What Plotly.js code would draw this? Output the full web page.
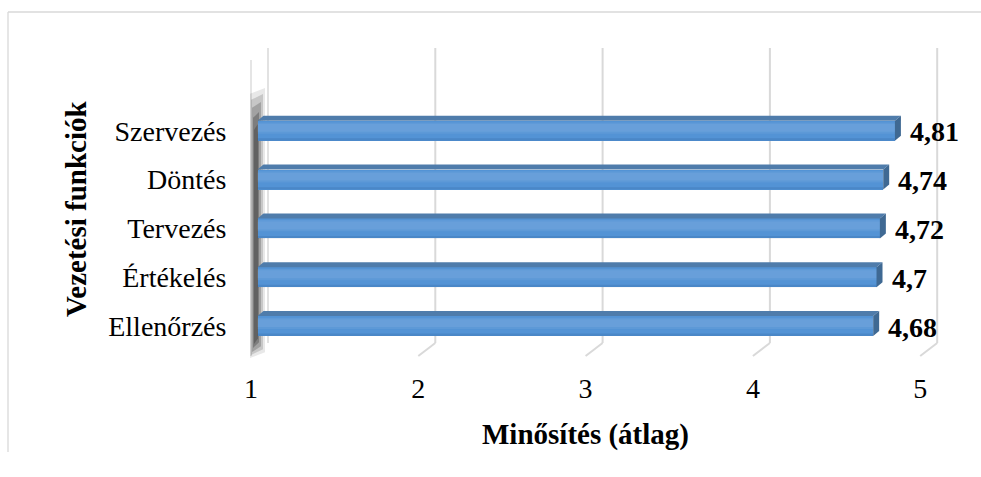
<!DOCTYPE html>
<html>
<head>
<meta charset="utf-8">
<script src="https://cdn.plot.ly/plotly-3.0.1.min.js"></script>
<style>html,body{margin:0;padding:0;background:#fff;}#chart{width:981px;height:477px;}</style>
</head>
<body>
<div id="chart"></div>
<script>
// ---- data (top to bottom as in the chart) ----
var categories = ["Szervezés", "Döntés", "Tervezés", "Értékelés", "Ellenőrzés"];
var values = [4.81, 4.74, 4.72, 4.70, 4.68];
var tickValues = [1, 2, 3, 4, 5];
var xTitle = "Minősítés (átlag)";
var yTitle = "Vezetési funkciók";

// ---- layout geometry (pixels) ----
var W = 981, H = 477;
var mL = 240, mR = 6, mT = 40, mB = 117;
var plotW = W - mL - mR, plotH = H - mT - mB;
var pxPerUnit = 167.3;
var pxPerCat = 48.8;
var barPlaneOne = 257.5;
var tickPlaneOne = 251;
var bottomCatPx = 326;
var FONT = "Liberation Serif";

var n = categories.length;
var yIdx = categories.map(function (c, i) { return n - 1 - i; });
var yRange = [(bottomCatPx - (mT + plotH)) / pxPerCat, (bottomCatPx - mT) / pxPerCat];
var xRange = [1 - (barPlaneOne - mL) / pxPerUnit, 1 + (W - mR - barPlaneOne) / pxPerUnit];
var x2Range = [1 - (tickPlaneOne - mL) / pxPerUnit, 1 + (W - mR - tickPlaneOne) / pxPerUnit];

function pyToY(py) { return (bottomCatPx - py) / pxPerCat; }
function pxToPaperX(px) { return (px - mL) / plotW; }
function pyToPaperY(py) { return (mT + plotH - py) / plotH; }

var barW = 20 / pxPerCat;
var dx = 6 / pxPerUnit, dy = 5 / pxPerCat;
var backDx = 17 / pxPerUnit;

var shapes = [];
shapes.push({type: "line", xref: "paper", yref: "paper", x0: pxToPaperX(8), x1: pxToPaperX(990), y0: pyToPaperY(12), y1: pyToPaperY(12), line: {color: "#d9d9d9", width: 1.3}, layer: "below"});
shapes.push({type: "line", xref: "paper", yref: "paper", x0: pxToPaperX(8), x1: pxToPaperX(8), y0: pyToPaperY(12), y1: pyToPaperY(452), line: {color: "#d9d9d9", width: 1.3}, layer: "below"});

var yBackTop = pyToY(48), yBackFloor = pyToY(343), yFrontFloor = pyToY(356);
tickValues.forEach(function (t, k) {
  if (k > 0) {
    shapes.push({type: "line", xref: "x2", yref: "y", x0: t + backDx, x1: t + backDx, y0: yBackFloor, y1: yBackTop, line: {color: "#d9d9d9", width: 2}, layer: "below"});
    shapes.push({type: "line", xref: "x2", yref: "y", x0: t + backDx, x1: t, y0: yBackFloor, y1: yFrontFloor, line: {color: "#d9d9d9", width: 2}, layer: "below"});
  }
});

// left wall: thin edges + blurred dark band
var w0 = tickValues[0];
shapes.push({type: "line", xref: "x2", yref: "y", x0: w0 + backDx, x1: w0 + backDx, y0: yBackFloor, y1: yBackTop, line: {color: "#d9d9d9", width: 1.5}, layer: "below"});
shapes.push({type: "line", xref: "x2", yref: "y", x0: w0, x1: w0, y0: yFrontFloor, y1: pyToY(60), line: {color: "#dcdcdc", width: 1.5}, layer: "below"});
[[-1, 14, 88, 358, 0.10], [0, 12, 94, 355, 0.16], [1, 10, 102, 352, 0.22], [2, 8, 112, 348, 0.28], [3, 7, 124, 344, 0.28]].forEach(function (s) {
  var xa = w0 + s[0] / pxPerUnit, xb = w0 + s[1] / pxPerUnit;
  var ya = pyToY(s[2]), yb = pyToY(s[3]);
  shapes.push({type: "path", xref: "x2", yref: "y",
    path: "M" + xa + "," + yb + " L" + xb + "," + (yb + 0.12) + " L" + xb + "," + ya + " L" + xa + "," + (ya - 0.12) + " Z",
    fillcolor: "rgba(30,30,30," + s[4] + ")", line: {width: 0}, layer: "below"});
});

values.forEach(function (v, i) {
  var y = yIdx[i], yt = y + barW / 2, yb = y - barW / 2;
  shapes.push({type: "path", xref: "x", yref: "y",
    path: "M1," + yt + " L" + v + "," + yt + " L" + (v + dx) + "," + (yt + dy) + " L" + (1 + dx) + "," + (yt + dy) + " Z",
    fillcolor: "#4f7cab", line: {width: 0}, layer: "above"});
  shapes.push({type: "path", xref: "x", yref: "y",
    path: "M" + v + "," + yb + " L" + v + "," + yt + " L" + (v + dx) + "," + (yt + dy) + " L" + (v + dx) + "," + (yb + dy) + " Z",
    fillcolor: "#3f6993", line: {width: 0}, layer: "above"});
  [[0.02, 0.17, 0.07], [0.06, 0.14, 0.06]].forEach(function (h) {
    shapes.push({type: "path", xref: "x", yref: "y",
      path: "M1," + (y - h[0]) + " L" + v + "," + (y - h[0]) + " L" + v + "," + (y + h[1]) + " L1," + (y + h[1]) + " Z",
      fillcolor: "rgba(255,255,255," + h[2] + ")", line: {width: 0}, layer: "above"});
  });
  shapes.push({type: "path", xref: "x", yref: "y",
    path: "M1," + yb + " L" + v + "," + yb + " L" + v + "," + (yb + 0.05) + " L1," + (yb + 0.05) + " Z",
    fillcolor: "rgba(30,70,120,0.15)", line: {width: 0}, layer: "above"});
});

var annotations = values.map(function (v, i) {
  return {xref: "x", yref: "y", x: v, y: yIdx[i], xanchor: "left", yanchor: "middle", xshift: 13, yshift: -1,
    text: "<b>" + String(v).replace(".", ",") + "</b>", showarrow: false,
    font: {family: FONT, size: 28, color: "#000"}};
});
annotations.push({xref: "x2", yref: "paper", x: (tickValues[0] + tickValues[tickValues.length - 1]) / 2, y: pyToPaperY(434),
  xanchor: "center", yanchor: "middle", text: "<b>" + xTitle + "</b>", showarrow: false,
  font: {family: FONT, size: 29, color: "#000"}});
annotations.push({xref: "paper", yref: "paper", x: pxToPaperX(76), y: pyToPaperY(209), textangle: -90,
  xanchor: "center", yanchor: "middle", text: "<b>" + yTitle + "</b>", showarrow: false,
  font: {family: FONT, size: 29, color: "#000"}});

var trace = {
  type: "bar", orientation: "h",
  y: yIdx,
  x: values.map(function (v) { return v - 1; }),
  base: 1,
  width: barW,
  marker: {color: "#5393d5", line: {width: 0}},
  hoverinfo: "skip",
  showlegend: false
};

var layout = {
  width: W, height: H,
  margin: {l: mL, r: mR, t: mT, b: mB, pad: 0},
  paper_bgcolor: "#ffffff", plot_bgcolor: "rgba(0,0,0,0)",
  font: {family: FONT, color: "#000", size: 28},
  showlegend: false,
  xaxis: {range: xRange, visible: false, fixedrange: true},
  xaxis2: {overlaying: "x", anchor: "y", side: "bottom", range: x2Range,
    tickmode: "array", tickvals: tickValues, ticktext: tickValues.map(String),
    ticks: "outside", ticklen: 3, tickcolor: "rgba(0,0,0,0)",
    showgrid: false, zeroline: false, showline: false,
    tickfont: {family: FONT, size: 28, color: "#000"}},
  yaxis: {range: yRange, tickmode: "array", tickvals: yIdx, ticktext: categories,
    ticks: "outside", ticklen: 7, tickcolor: "rgba(0,0,0,0)",
    showgrid: false, zeroline: false, showline: false,
    tickfont: {family: FONT, size: 28, color: "#000"}},
  shapes: shapes,
  annotations: annotations,
  bargap: 0
};

Plotly.newPlot("chart", [trace], layout, {displayModeBar: false, staticPlot: true});
</script>
</body>
</html>
